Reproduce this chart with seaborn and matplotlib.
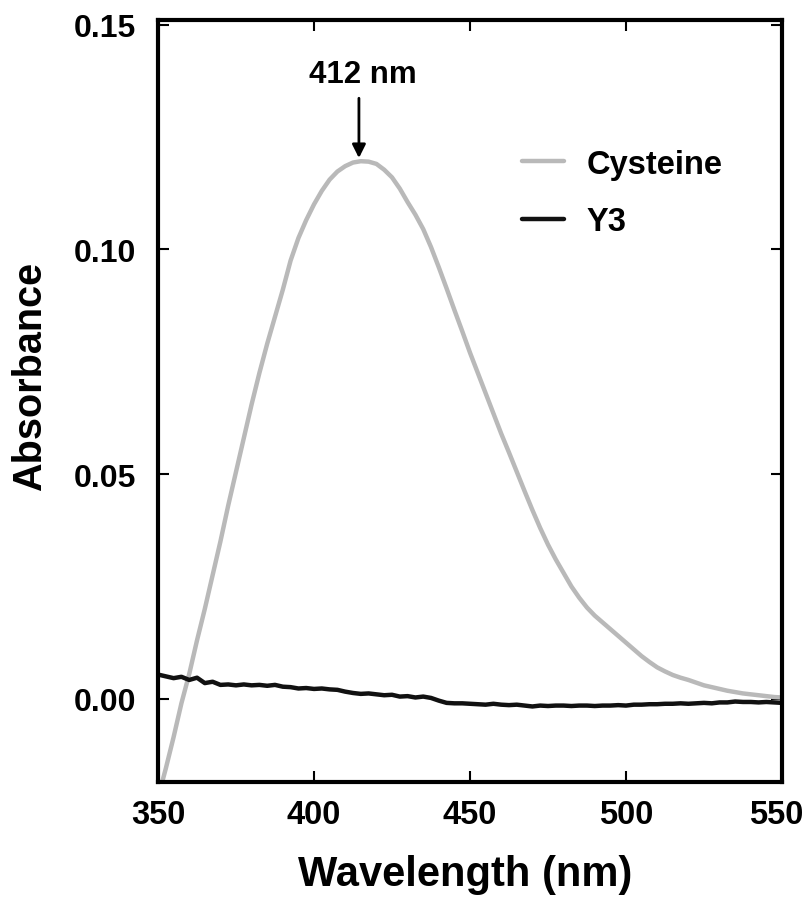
import matplotlib
matplotlib.use('Agg')
import matplotlib.pyplot as plt
import matplotlib.transforms as mtransforms
import seaborn as sns
import pandas as pd

# Absorbance spectra (2.5 nm steps)
wavelength = [350, 352.5, 355, 357.5, 360, 362.5, 365, 367.5, 370, 372.5,
              375, 377.5, 380, 382.5, 385, 387.5, 390, 392.5, 395, 397.5,
              400, 402.5, 405, 407.5, 410, 412.5, 415, 417.5, 420, 422.5,
              425, 427.5, 430, 432.5, 435, 437.5, 440, 442.5, 445, 447.5,
              450, 452.5, 455, 457.5, 460, 462.5, 465, 467.5, 470, 472.5,
              475, 477.5, 480, 482.5, 485, 487.5, 490, 492.5, 495, 497.5,
              500, 502.5, 505, 507.5, 510, 512.5, 515, 517.5, 520, 522.5,
              525, 527.5, 530, 532.5, 535, 537.5, 540, 542.5, 545, 547.5,
              550]
cysteine = [-0.022, -0.0155, -0.0085, -0.001, 0.0055, 0.013, 0.020, 0.0275, 0.035, 0.043,
            0.0505, 0.058, 0.0655, 0.0725, 0.079, 0.085, 0.091, 0.0975, 0.1025, 0.1065,
            0.110, 0.113, 0.1155, 0.1173, 0.1185, 0.1193, 0.1196, 0.1195, 0.1190, 0.1177,
            0.1160, 0.1135, 0.1105, 0.1077, 0.1045, 0.1005, 0.096, 0.0913, 0.0865, 0.0818,
            0.077, 0.0725, 0.068, 0.0635, 0.059, 0.0548, 0.0505, 0.0462, 0.042, 0.038,
            0.0343, 0.031, 0.028, 0.025, 0.0225, 0.0203, 0.0185, 0.017, 0.0155, 0.014,
            0.0125, 0.011, 0.0095, 0.0082, 0.0070, 0.0061, 0.0053, 0.0047, 0.0042, 0.0036,
            0.0030, 0.0026, 0.0022, 0.0018, 0.0015, 0.0012, 0.0010, 0.0008, 0.0006, 0.0004,
            0.0003]
y3 = [0.0054, 0.0050, 0.0046, 0.0049, 0.0042, 0.0047, 0.0035, 0.0038, 0.0031, 0.0032,
      0.0030, 0.0032, 0.0030, 0.0031, 0.0029, 0.0031, 0.0027, 0.0026, 0.0023, 0.0024,
      0.0022, 0.0023, 0.0021, 0.0020, 0.0016, 0.0013, 0.0011, 0.0012, 0.0010, 0.0008,
      0.0009, 0.0005, 0.0006, 0.0003, 0.0005, 0.0002, -0.0004, -0.0009, -0.0010, -0.0010,
      -0.0011, -0.0012, -0.0013, -0.0011, -0.0013, -0.0014, -0.0013, -0.0015, -0.0017, -0.0015,
      -0.0016, -0.0015, -0.0015, -0.0016, -0.0015, -0.0015, -0.0016, -0.0015, -0.0015, -0.0014,
      -0.0015, -0.0013, -0.0013, -0.0012, -0.0012, -0.0011, -0.0011, -0.0010, -0.0011, -0.0010,
      -0.0009, -0.0010, -0.0008, -0.0008, -0.0006, -0.0007, -0.0007, -0.0008, -0.0007, -0.0008,
      -0.0009]
series_names = ['Cysteine', 'Y3']
series_colors = ['#b9b9b9', '#111111']
peak_label = '412 nm'
peak_x = 414.4
peak_y = 0.1203

df = pd.DataFrame({'Wavelength': wavelength, 'Cysteine': cysteine, 'Y3': y3})
df = df.melt(id_vars='Wavelength', var_name='Sample', value_name='Absorbance')

sns.set_style('ticks')
plt.rcParams['font.family'] = ['Liberation Sans', 'DejaVu Sans']
plt.rcParams['font.weight'] = 'bold'
plt.rcParams['text.color'] = 'black'
plt.rcParams['axes.labelcolor'] = 'black'
plt.rcParams['xtick.color'] = 'black'
plt.rcParams['ytick.color'] = 'black'

fig = plt.figure(figsize=(8.07, 9.03), dpi=100)
ax = fig.add_axes([0.1958, 0.1329, 0.7732, 0.8438])

sns.lineplot(data=df, x='Wavelength', y='Absorbance', hue='Sample',
             hue_order=series_names, palette=series_colors, linewidth=3.2, ax=ax)

ax.set_xlim(350, 550)
ax.set_ylim(-0.0185, 0.151)
ax.set_xticks([350, 400, 450, 500, 550])
ax.set_yticks([0.00, 0.05, 0.10, 0.15])
ax.set_yticklabels(['0.00', '0.05', '0.10', '0.15'])

for s in ax.spines.values():
    s.set_linewidth(3)
    s.set_color('black')
ax.tick_params(direction='in', length=8, width=1.5, top=True, right=True)
ax.tick_params(axis='x', labelsize=23.5, pad=12)
ax.tick_params(axis='y', labelsize=23, pad=16)

# nudge the last x label inward so it stays inside the figure
last = ax.get_xticklabels()[-1]
last.set_transform(last.get_transform() +
                   mtransforms.ScaledTranslation(-6 / 100, 0, fig.dpi_scale_trans))

ax.set_xlabel('Wavelength (nm)', fontsize=30, fontweight='bold')
ax.set_ylabel('Absorbance', fontsize=28.5, fontweight='bold')
ax.xaxis.set_label_coords(0.492, -0.095)
ax.yaxis.set_label_coords(-0.175, 0.533)

ax.annotate('', xy=(peak_x, peak_y), xytext=(peak_x, 0.1336),
            arrowprops=dict(arrowstyle='-|>', lw=2, color='black',
                            mutation_scale=20, shrinkA=0, shrinkB=0))
ax.text(415.7, 0.139, peak_label, ha='center', va='center', fontsize=22.5, fontweight='bold')

leg = ax.legend(frameon=False, fontsize=23.5, handlelength=1.29, handletextpad=0.7,
                labelspacing=0.81, loc='upper left', bbox_to_anchor=(0.583, 0.831),
                borderpad=0, borderaxespad=0)
for line in leg.get_lines():
    line.set_linewidth(3.2)

fig.savefig('out.png', dpi=100)
